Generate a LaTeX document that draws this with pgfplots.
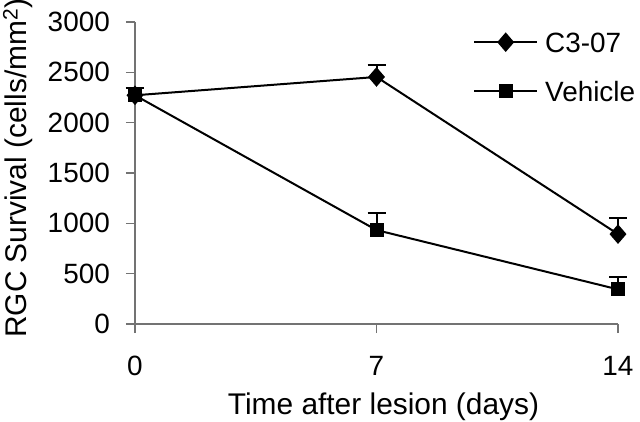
\documentclass[border=0pt]{standalone}
\usepackage{fontspec}
\setmainfont{Liberation Sans}
\usepackage{pgfplots}
\pgfplotsset{compat=1.18}
\definecolor{axgray}{RGB}{115,115,115}
\begin{document}
\begin{tikzpicture}
\begin{axis}[
  at={(0,0)}, anchor=south west,
  scale only axis, width=483bp, height=302bp,
  xmin=0, xmax=14, ymin=0, ymax=3000,
  clip=false,
  axis x line*=bottom, axis y line*=left,
  axis line style={axgray, line width=1.4bp, -},
  tick style={axgray, line width=1.4bp},
  tick align=outside,
  major tick length=9bp,
  xtick={0,7,14}, ytick={0,500,...,3000},
  /pgf/number format/assume math mode=true,
  scaled y ticks=false,
  yticklabel style={font=\fontsize{28}{32}\selectfont, anchor=east, inner sep=0pt, xshift=-16bp},
  xticklabel style={font=\fontsize{28}{32}\selectfont, anchor=north, inner sep=0pt, yshift=-23bp},
  yticklabel={\pgfmathprintnumber[fixed,1000 sep={}]{\tick}},
  xlabel={Time after lesion (days)},
  ylabel={RGC Survival (cells/mm\textsuperscript{2})},
  xlabel style={font=\fontsize{30}{34}\selectfont, at={(axis description cs:0.5,0)}, anchor=base, inner sep=0pt, xshift=7bp, yshift=-90bp},
  ylabel style={font=\fontsize{30}{34}\selectfont, at={(axis description cs:-0.2112,-0.0464)}, anchor=south west, inner sep=0pt, rotate=0},
  legend style={draw=none, fill=none, inner sep=0pt, at={(axis description cs:0.6998,0.9669)}, anchor=north west,
    font=\fontsize{28}{32}\selectfont, row sep=29bp, column sep=7bp,
    nodes={inner sep=0pt, text height=20bp, text depth=0bp}},
  legend cell align=left,
  legend image code/.code={\draw[mark repeat=2,mark phase=2,#1] plot coordinates {(0bp,0bp) (31.5bp,0bp) (63bp,0bp)};},
  error bars/error bar style={black, line width=2bp},
  error bars/error mark options={black, line width=2bp, mark size=9bp, rotate=90},
]
\addplot[black, line width=2bp, mark=diamond*, mark size=8.3bp, mark options={xscale=1.15},
  error bars/.cd, y dir=plus, y explicit]
  coordinates {(0,2272) +- (0,70) (7,2454) +- (0,122) (14,893) +- (0,162)};
\addlegendentry{C3-07}
\addplot[black, line width=2bp, mark=square*, mark size=6bp,
  error bars/.cd, y dir=plus, y explicit]
  coordinates {(0,2272) +- (0,70) (7,933) +- (0,172) (14,344) +- (0,126)};
\addlegendentry{Vehicle}
\end{axis}
\pgfresetboundingbox
\path[use as bounding box] (-135bp,-98bp) rectangle (505bp,324bp);
\end{tikzpicture}
\end{document}
